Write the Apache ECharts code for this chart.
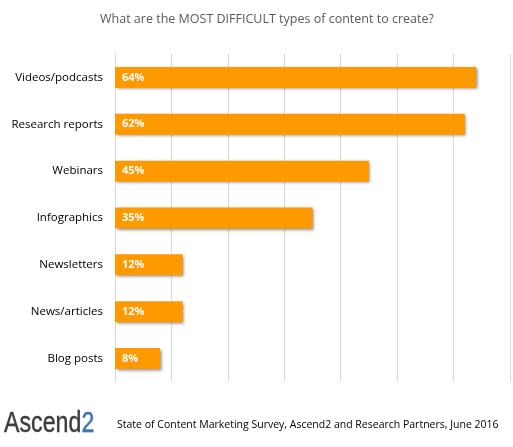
<!DOCTYPE html>
<html><head><meta charset="utf-8">
<script src="https://cdn.jsdelivr.net/npm/echarts@6/dist/echarts.min.js"></script>
<style>html,body{margin:0;padding:0;background:#fff}#c{width:513px;height:447px}</style>
</head><body><div id="c"></div>
<script>
const categories = ["Videos/podcasts","Research reports","Webinars","Infographics","Newsletters","News/articles","Blog posts"];
const values = [64, 62, 45, 35, 12, 12, 8];
const titleText = "What are the MOST DIFFICULT types of content to create?";
const sourceText = "State of Content Marketing Survey, Ascend2 and Research Partners, June 2016";

const chart = echarts.init(document.getElementById('c'));
chart.setOption({
  animation: false,
  backgroundColor: '#fff',
  title: {
    text: titleText, left: 95, top: 8,
    textStyle: { fontFamily: 'Open Sans, Noto Sans, sans-serif', fontSize: 12.5, fontWeight: 'normal', color: '#595959' }
  },
  grid: { left: 115, right: 3, top: 54, bottom: 65, containLabel: false },
  xAxis: {
    type: 'value', min: 0, max: 70, interval: 10,
    axisLabel: { show: false }, axisTick: { show: false }, axisLine: { show: false },
    splitLine: { lineStyle: { color: '#d9d9d9', width: 1 } }
  },
  yAxis: {
    type: 'category', data: categories, inverse: true,
    axisTick: { show: false },
    axisLine: { show: true, lineStyle: { color: '#d9d9d9' } },
    axisLabel: { margin: 12, fontFamily: 'Open Sans, Noto Sans, sans-serif', fontSize: 11.5, color: '#000' }
  },
  series: [{
    type: 'bar', data: values, barWidth: 21,
    itemStyle: { color: '#ff9900', shadowColor: 'rgba(0,0,0,0.45)', shadowBlur: 3, shadowOffsetX: 1.5, shadowOffsetY: 1.5 },
    label: { show: true, position: 'insideLeft', distance: 7, formatter: '{c}%', color: '#fff', fontWeight: 'bold', fontSize: 11, fontFamily: 'Open Sans, Noto Sans, sans-serif' }
  }],
  graphic: [
    { type: 'text', x: 4, y: 409, scaleX: 0.8, style: { rich: { a: { fill: '#3b3b3b', fontSize: 29, fontFamily: 'Liberation Sans, Arial, sans-serif' }, b: { fill: '#3a78c3', fontSize: 29, fontFamily: 'Liberation Sans, Arial, sans-serif' } }, text: '{a|Ascend}{b|2}', stroke: '#3b3b3b', lineWidth: 0.4 } },
    { type: 'text', left: 117, top: 420, style: { text: sourceText, fill: '#000', fontSize: 10.5, fontFamily: 'Open Sans, Noto Sans, sans-serif' } }
  ]
});
</script></body></html>
